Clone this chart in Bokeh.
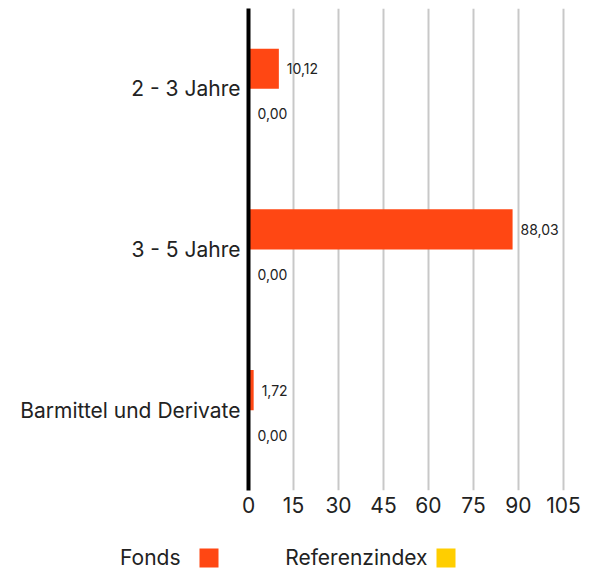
from bokeh.plotting import figure
from bokeh.models import ColumnDataSource, FactorRange, Range1d, FixedTicker
from bokeh.transform import dodge
from bokeh.layouts import column, row
from bokeh.core.properties import value
from bokeh.embed import file_html
from bokeh.resources import INLINE

categories = ["2 - 3 Jahre", "3 - 5 Jahre", "Barmittel und Derivate"]
fonds = [10.12, 88.03, 1.72]
referenz = [0.00, 0.00, 0.00]
series = ["Fonds", "Referenzindex"]
colors = ["#FF4713", "#FFCE00"]
x_ticks = [0, 15, 30, 45, 60, 75, 90, 105]

FONT = "Inter"
TXT = "#222222"

def fmt(v):
    return f"{v:.2f}".replace(".", ",")

src = ColumnDataSource(dict(
    cat=categories,
    fonds=fonds,
    ref=referenz,
    fonds_lbl=[fmt(v) for v in fonds],
    ref_lbl=[fmt(v) for v in referenz],
))

p = figure(
    width=598, height=524,
    y_range=FactorRange(factors=list(reversed(categories)), range_padding=0),
    x_range=Range1d(0, 110.67),
    output_backend="svg", toolbar_location=None,
    min_border_left=248, min_border_right=18, min_border_top=8, min_border_bottom=34,
)
p.outline_line_color = None
p.background_fill_color = "white"

p.hbar(y=dodge("cat", 0.125, range=p.y_range), right="fonds", left=0, height=0.25,
       color=colors[0], line_color=None, source=src)
p.hbar(y=dodge("cat", -0.125, range=p.y_range), right="ref", left=0, height=0.25,
       color=colors[1], line_color=None, source=src)

p.text(x="fonds", y=dodge("cat", 0.125, range=p.y_range), text="fonds_lbl", source=src,
       x_offset=8, text_baseline="middle", text_align="left",
       text_font=value(FONT), text_font_size="14px", text_color=TXT)
p.text(x="ref", y=dodge("cat", -0.156, range=p.y_range), text="ref_lbl", source=src,
       x_offset=9, text_baseline="middle", text_align="left",
       text_font=value(FONT), text_font_size="14px", text_color=TXT)

p.ygrid.grid_line_color = None
p.xgrid.grid_line_color = "#c8c8c8"
p.xgrid.grid_line_width = 2
p.xaxis.ticker = FixedTicker(ticks=x_ticks)
p.xaxis.axis_line_color = None
p.xaxis.major_tick_line_color = None
p.xaxis.minor_tick_line_color = None
p.xaxis.major_tick_out = 0
p.xaxis.major_tick_in = 0
p.xaxis.major_label_standoff = 6
p.xaxis.major_label_text_font = FONT
p.xaxis.major_label_text_font_size = "21px"
p.xaxis.major_label_text_color = TXT

p.yaxis.axis_line_color = "black"
p.yaxis.axis_line_width = 4
p.yaxis.major_tick_line_color = None
p.yaxis.minor_tick_line_color = None
p.yaxis.major_tick_out = 0
p.yaxis.major_tick_in = 0
p.yaxis.major_label_standoff = 8
p.yaxis.major_label_text_font = FONT
p.yaxis.major_label_text_font_size = "21px"
p.yaxis.major_label_text_color = TXT

# legend: text to the left of its colour square
leg = figure(width=598, height=50, x_range=Range1d(0, 598), y_range=Range1d(0, 50),
             output_backend="svg", toolbar_location=None, min_border=0)
leg.axis.visible = False
leg.grid.visible = False
leg.outline_line_color = None
leg.rect(x=[208.5, 445.5], y=[16.5, 16.5], width=19, height=19, color=colors, line_color=None)
leg.text(x=[180, 427], y=[17, 17], text=series, text_align="right", text_baseline="middle",
         text_font=value(FONT), text_font_size="21px", text_color=TXT)

layout = column(p, row(leg))
open("out.html", "w").write(file_html(layout, INLINE))
